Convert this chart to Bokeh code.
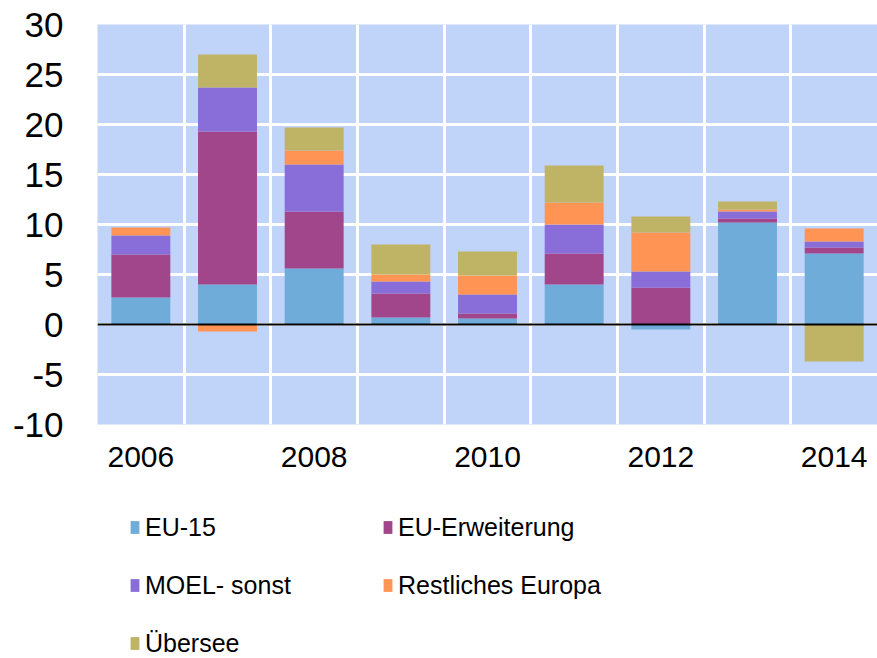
from bokeh.plotting import figure
from bokeh.layouts import column
from bokeh.models import FixedTicker, Span, Legend, LegendItem, Range1d
from bokeh.embed import file_html
from bokeh.resources import INLINE

years = ["2006", "2007", "2008", "2009", "2010", "2011", "2012", "2013", "2014"]
eu15 = [2.7, 4.0, 5.6, 0.7, 0.6, 4.0, -0.5, 10.2, 7.1]
eu_erw = [4.3, 15.3, 5.7, 2.4, 0.5, 3.1, 3.7, 0.4, 0.6]
moel = [1.9, 4.4, 4.7, 1.2, 1.9, 2.9, 1.6, 0.7, 0.6]
rest = [0.8, -0.7, 1.4, 0.7, 1.9, 2.2, 3.9, 0.2, 1.3]
uebersee = [0.0, 3.3, 2.3, 3.0, 2.4, 3.7, 1.6, 0.8, -3.7]

series_names = ["EU-15", "EU-Erweiterung", "MOEL- sonst", "Restliches Europa", "Übersee"]
series_vals = [eu15, eu_erw, moel, rest, uebersee]
colors = ["#70acd9", "#a1468a", "#896dd8", "#ff9455", "#bfb366"]

y_ticks = [-10, -5, 0, 5, 10, 15, 20, 25, 30]
y_tick_labels = ["-10", "-5", "0", "5", "10", "15", "20", "25", "30"]
label_years = ["2006", "2008", "2010", "2012", "2014"]

n = len(years)
xs = [i + 0.5 for i in range(n)]

p = figure(width=877, height=500, output_backend="svg", toolbar_location=None,
           x_range=Range1d(0, n), y_range=Range1d(-10, 30),
           min_border_left=97, min_border_right=0, min_border_top=24, min_border_bottom=76)
p.background_fill_color = "#c0d3f8"
p.border_fill_color = "white"
p.outline_line_color = None

# grids
p.xgrid.ticker = FixedTicker(ticks=list(range(1, n)))
p.ygrid.ticker = FixedTicker(ticks=[t for t in y_ticks if -10 < t < 30])
for g in (p.xgrid, p.ygrid):
    g.grid_line_color = "white"
    g.grid_line_width = 3

# stacked bars (positives up, negatives down)
pos = [0.0] * n
neg = [0.0] * n
for name, vals, col in zip(series_names, series_vals, colors):
    bottoms, tops = [], []
    for i, v in enumerate(vals):
        if v >= 0:
            bottoms.append(pos[i]); tops.append(pos[i] + v); pos[i] += v
        else:
            bottoms.append(neg[i]); tops.append(neg[i] + v); neg[i] += v
    p.vbar(x=xs, bottom=bottoms, top=tops, width=0.68, fill_color=col, line_color=None)

p.add_layout(Span(location=0, dimension="width", line_color="black", line_width=2))

# axes
for ax in (p.xaxis, p.yaxis):
    ax.axis_line_color = None
    ax.major_tick_line_color = None
    ax.minor_tick_line_color = None
    ax.major_tick_out = 0
    ax.major_tick_in = 0
    ax.minor_tick_out = 0
    ax.major_label_text_font = "Liberation Sans"
    ax.major_label_text_color = "black"

p.yaxis.ticker = FixedTicker(ticks=y_ticks)
p.yaxis.major_label_overrides = dict(zip(y_ticks, y_tick_labels))
p.yaxis.major_label_standoff = 34
p.yaxis.major_label_text_font_size = "35px"

x_tick_pos = [xs[years.index(y)] for y in label_years]
p.xaxis.ticker = FixedTicker(ticks=x_tick_pos)
p.xaxis.major_label_overrides = {xp: y for xp, y in zip(x_tick_pos, label_years)}
p.xaxis.major_label_standoff = 22
p.xaxis.major_label_text_font_size = "30px"

# legend in a separate small figure below (its frame aligns with the chart frame)
pl = figure(width=877, height=158, output_backend="svg", toolbar_location=None,
            x_range=Range1d(0, 1), y_range=Range1d(0, 1),
            x_axis_location=None, y_axis_location=None,
            min_border_left=97, min_border_right=0, min_border_top=0, min_border_bottom=0)
pl.grid.visible = False
pl.outline_line_color = None
# legend swatches: glyphs placed outside the visible range
leg_renderers = [pl.vbar(x=[5], top=[5], bottom=[4], width=0.5, fill_color=c, line_color=None)
                 for c in colors]

def make_legend(idx, loc):
    items = [LegendItem(label=series_names[i], renderers=[leg_renderers[i]]) for i in idx]
    return Legend(items=items, location=loc, orientation="vertical",
                  glyph_width=11, glyph_height=16, label_height=30, spacing=28,
                  label_standoff=5, padding=0, margin=0,
                  border_line_color=None, background_fill_alpha=0,
                  label_text_font="Liberation Sans", label_text_font_size="25px",
                  label_text_color="black", label_text_baseline="middle")

pl.add_layout(make_legend([0, 2, 4], (32, 0)))
pl.add_layout(make_legend([1, 3], (285, 58)))

layout = column(p, pl, spacing=0)
open("out.html", "w").write(file_html(layout, INLINE))
